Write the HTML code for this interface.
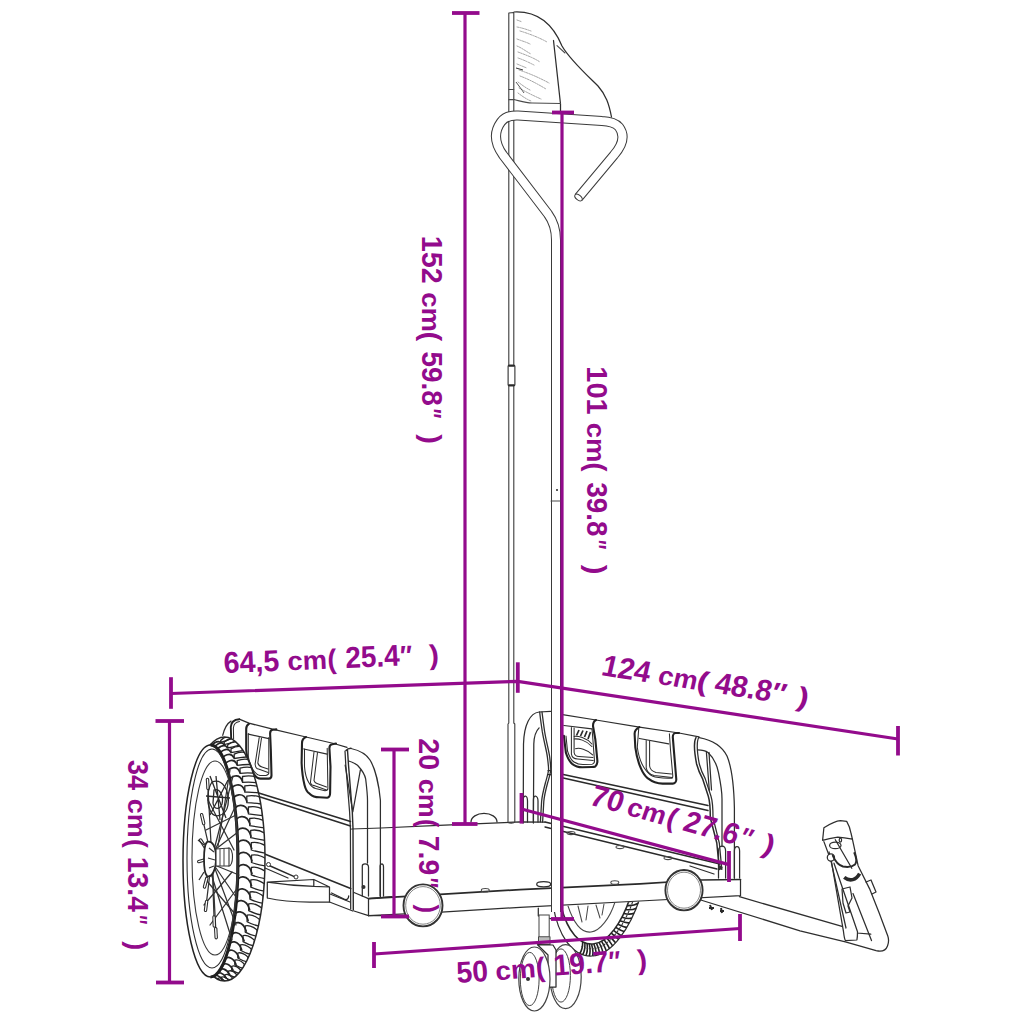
<!DOCTYPE html>
<html><head><meta charset="utf-8"><style>
html,body{margin:0;padding:0;background:#fff;width:1024px;height:1024px;overflow:hidden}
svg{display:block}
.d{stroke:#930b8c;stroke-width:3.2;fill:none}
.k{stroke:#930b8c;stroke-width:3.8;fill:none}
.t{font-family:"Liberation Sans",sans-serif;font-weight:bold;font-size:30px;fill:#930b8c}
.l{stroke:#2e2e2e;stroke-width:1.25;fill:none;stroke-linecap:round;stroke-linejoin:round}
.lt{stroke:#4a4a4a;stroke-width:1.05;fill:none;stroke-linecap:round;stroke-linejoin:round}
.lo{stroke:#222;stroke-width:2.1;fill:none;stroke-linecap:round;stroke-linejoin:round}
.li{stroke:#2e2e2e;stroke-width:1.05;fill:none;stroke-linecap:round;stroke-linejoin:round}
.lk{stroke:#2a2a2a;stroke-width:2;fill:none;stroke-linecap:round;stroke-linejoin:round}
</style></head><body>
<svg width="1024" height="1024" viewBox="0 0 1024 1024">
<g id="drawing">
<defs>
<clipPath id="belowFloor"><path d="M540,907 L740,896 L740,1000 L540,1000 Z"/></clipPath>
<clipPath id="tread" clip-rule="evenodd"><path clip-rule="evenodd" d="M224.5,737 A40.5,122 0 1 1 224.5,981 A40.5,122 0 1 1 224.5,737 Z M210.5,745 A27.5,116 0 1 0 210.5,977 A27.5,116 0 1 0 210.5,745 Z"/></clipPath>
</defs>
<!-- under wheel (behind floor) -->
<g clip-path="url(#belowFloor)">
<path class="l" d="M553,905 C558,935 572,957 592,956 C612,955 630,928 640,898" style="fill:#fff"/>
<path class="lk" d="M561,906 C568,933 580,945 593,944 C608,943 622,922 630,898" style="stroke-width:1.6"/>
<path class="lt" d="M568,906 C575,927 583,933 591,932 C600,931 610,918 615,902"/>
<path stroke="#222" stroke-width="1.6" fill="none" d="M582.7,941.9 Q582.7,949.2 579.7,953.5 M584.9,942.9 Q585.3,950.3 582.7,954.7 M587.1,943.5 Q588.0,951.1 585.9,955.6 M589.3,943.9 Q590.8,951.5 589.3,956.0 M591.5,944.1 Q593.6,951.5 592.7,956.0 M593.9,943.9 Q596.5,951.2 596.2,955.4 M596.5,943.4 Q599.5,950.4 599.6,954.4 M599.1,942.5 Q602.5,949.2 602.9,952.9 M601.6,941.3 Q605.4,947.6 606.2,950.9 M604.1,939.7 Q608.3,945.6 609.4,948.6 M606.6,937.8 Q611.1,943.3 612.6,945.8 M608.9,935.6 Q613.8,940.7 615.6,942.7 M611.3,933.1 Q616.5,937.7 618.6,939.3 M613.6,930.3 Q619.0,934.5 621.5,935.6 M615.8,927.4 Q621.5,931.0 624.2,931.5 M617.9,924.2 Q623.9,927.2 626.9,927.3 M620.0,920.8 Q626.2,923.3 629.4,922.8 M621.9,917.2 Q628.4,919.1 631.8,918.1 M623.8,913.5 Q630.4,914.8 634.1,913.2 M625.6,909.6 Q632.4,910.4 636.2,908.2 M627.2,905.6 Q634.2,905.9 638.2,903.1 M628.8,901.5 Q635.9,901.3 640.0,898.1"/>
<path stroke="#333" stroke-width="1.1" fill="none" d="M581.6,946.6 L583.0,947.2 M584.1,947.6 L585.6,948.1 M586.7,948.4 L588.2,948.6 M589.4,948.8 L590.9,948.8 M592.1,948.8 L593.7,948.7 M595.0,948.5 L596.6,948.1 M597.9,947.8 L599.5,947.2 M600.8,946.6 L602.4,945.8 M603.6,945.0 L605.2,944.0 M606.4,943.1 L607.9,941.9 M609.1,940.9 L610.6,939.5 M611.8,938.3 L613.3,936.7 M614.4,935.4 L615.8,933.7 M616.9,932.2 L618.3,930.4 M619.3,928.8 L620.6,926.8 M621.7,925.2 L622.9,923.1 M623.9,921.3 L625.1,919.1 M626.0,917.3 L627.2,915.0 M628.1,913.1 L629.1,910.7 M630.0,908.8 L631.0,906.3 M631.7,904.3 L632.7,901.8 M633.4,899.8 L634.0,898.1"/>
<path class="lt" d="M588,906 L586,920 M596,905 L600,918 M604,904 L602,915 M578,906 L582,922"/>
</g>
<!-- rear (right) panel -->
<path class="l" d="M523.2,823 L523.5,744 C524,725 530,713 539.1,712 L550.5,711.4"/>
<path class="l" d="M533.4,823 L533.8,744 C534,737 536,731 539.1,727.9"/>
<path class="li" style="stroke-width:1.3" d="M539.7,712 C540.5,720 541.5,726 542.3,731.7 C544,742 546.5,750 547.4,757.1 C548,762 548.6,766 548.6,769.8 C548,775 546.5,779 545.5,782.5 C543.5,790 542,796 541.6,801.5 L540.4,821.8"/>
<path class="li" style="stroke-width:1.3" d="M542,712 C543,720 543.8,726 544.6,731.5 C546.3,742 548.8,750 549.7,757 C550.3,762 550.8,766 550.8,770 C550.2,775 548.7,779 547.7,782.5 C545.7,790 544.2,796 543.8,801.5 L542.6,822"/>
<path class="l" d="M548,770.5 L551.5,770.5 M547.5,774.5 L551,774.5"/>
<path class="l" d="M561,714.3 L596,720 L639.4,727.2 L679,733 L699,736.9"/>
<path class="lo" d="M563.9,735.8 L565.9,752.8 C567.5,758 569.5,761.5 572.1,763.8 C575,766 578.5,767.2 582.3,767.2 L592,767 C594,767 595.3,766.5 595.3,766.5 C596.8,765 597.4,763 597.4,761 L595.3,739.2 L593,726 C593,723 594,721 596,720"/>
<path class="li" d="M566,736 L567.5,751 C569,756 571,760 574,762 C577,764 580,764.5 583,764.5 L592,764.2 C593.5,764 594.5,763 594.5,761 L592.6,735.8 L592,728.9"/>
<path class="l" d="M563.9,725.5 L591.9,728.9"/>
<path class="li" d="M571.4,727.6 L571.4,754.2 C572,757.5 574.5,759 577.6,759 L593.3,760.4 M574.1,728 L574.1,752.5 C574.5,755 576.5,756.5 579,756.5 L593,757.5"/>
<path class="li" d="M574.1,736.4 C578,736 586,737.5 591.9,744 M574.1,739 C578,738.5 586,740 591.9,746.5"/>
<path class="li" d="M575.5,748.7 C579,747.5 587,749 592.6,754.9"/>
<path stroke="#2a2a2a" stroke-width="1.7" fill="none" d="M576.5,735.5 L579,730 M580.5,736 L583,730.5 M584.5,737 L587,731 M588,739 L590.5,732"/>
<path class="lo" d="M639.4,727.2 C637,728.5 634.6,731 634.6,733.7 L635.3,747.3 C636.5,756 638,762 640.7,767.8 C642.5,772 644.5,775.5 647.6,778.1 C652,781.5 657,783.6 662.6,783.6 L672.8,783.6 C674.8,783.6 676.3,781.5 676.3,779.5 L674.2,754.2 L672.8,737.1 C672.8,735 674,733 675.6,733 L679,733"/>
<path class="li" d="M638.7,728.9 L637.3,747.3 C638.5,756 641,763 644.1,767.8 C646.5,771.5 649,774.5 652.3,776 C657,778 663,778.1 668,778.1 L672.2,778.1 C672.8,777.5 672.8,776.5 672.8,776 L670.5,750 L669.4,733.7"/>
<path class="l" d="M639.4,738.5 L668.7,743.9"/>
<path class="li" d="M646.2,740.5 L646.2,767.8 C647,772 650,774.5 654,775.5 L672.2,777.4 M649.6,741 L649.6,766 C650,769.5 652.5,771.5 656,772.5 L671.5,774"/>
<path class="lk" style="stroke-width:1.5" d="M561,774 L708,805.5"/>
<path class="lk" style="stroke-width:1.5" d="M561,777.5 L708,810.5"/>
<path class="lk" style="stroke-width:1.5" d="M696,737.5 C694,741 693.5,748 696.6,764 C698.5,771 700.5,775 702.5,778.6 L708.3,796.2 C709.5,800 710.3,808 710.3,817.7 L716.8,843 L719.4,869.4"/>
<path class="l" d="M698.8,737.3 C696.8,741 696.3,748 699.3,764 C701.2,771 703.2,775 705.2,778.6 L711,796.2 C712.2,800 713,808 713,817.7 L719.3,843 L721.8,869.4"/>
<path class="l" d="M699.2,737.6 C712,740 722,746 727,756 C732,768 734,790 734.4,808 L734.4,878"/>
<path class="l" d="M697.5,749.9 C702,750 706,751 708,752.5 C713,757 717,765 718.5,772.7 C721,785 722,795 722,799 L722,846.5"/>
<path class="l" d="M706.4,752.2 L709.3,790.3 M709,752.5 L711.5,790"/>
<path class="l" d="M718.5,878 L718.5,851 C718.5,847 721,846 722,846 C724,846 725.6,848 725.6,851 L725.6,878 M734.4,878 L734.4,851 C734.4,847.5 736,846.5 737,846.5 C738.5,846.5 739.6,848 739.6,851 L739.6,878"/>
<path class="lk" style="stroke-width:1.6" d="M545,822 L720,864"/>
<path class="lk" style="stroke-width:1.3" d="M545,827 L717,869"/>
<path class="l" d="M690,866 L714,874"/>
<path class="l" d="M523.2,822 L523.2,800 C523.2,797.5 524.5,796 525.5,796 C527,796.5 527.5,798 527.5,801 L527.5,822 M533.4,822 L533.4,800 C533.4,797.5 534.5,796 535.5,796 C537,796.5 538,798 538,801 L538,822"/>
<circle cx="720.3" cy="867.6" r="2.2" fill="#333"/>
<ellipse class="lt" cx="571" cy="833" rx="4" ry="1.6"/>
<ellipse class="lt" cx="620" cy="847" rx="4" ry="1.6"/>
<ellipse class="lt" cx="668" cy="858" rx="4" ry="1.6"/>
<!-- floor -->
<path class="l" d="M351.6,829 L381,828 L438.8,825.3 L520,821.9 L545,822"/>
<path class="l" d="M471,821.9 A13,8.5 0 0 1 497,821.9"/>
<path class="lk" style="stroke-width:1.7" d="M368.5,898.6 L440,894.3 L520,889.6 L640,883.9 L701,880 L740.5,879.5"/>
<path class="l" d="M354,911 L368.5,915.7 L441.5,912.1 L520,907.3 L640,901 L740.5,895.7 L740.5,879.5"/>
<path class="l" d="M368.5,898.6 L368.5,915.7 M354,892.5 L368.5,898.6"/>
<ellipse class="lt" cx="485.3" cy="890.2" rx="4" ry="1.8"/>
<ellipse class="l" cx="543.7" cy="884.3" rx="7" ry="2.6" style="fill:#fff"/>
<ellipse class="lt" cx="614.8" cy="882.5" rx="4" ry="1.8"/>
<!-- left (front) panel -->
<path class="l" d="M222.7,735.3 C224.5,728 227,723.5 231,721.1 M239.3,719.2 L248.9,723.2 L273.6,729.4 L306,737 L333.8,743.5 L347,747.3"/>
<path class="lo" style="stroke-width:1.9" d="M231.2,739 L230.8,727 C231,722 234,719.5 239.3,719.2"/>
<path class="li" d="M233.6,739 L233.4,728 C233.6,724.5 235.5,722 239.5,721.5"/>
<path class="lo" d="M248.9,723.9 C247,725 246.2,727 246.2,729 L246.2,749.2 C246.5,755 247.5,759 249.6,762.9 L253.7,773.8 C255.5,777 258,778.6 260.6,778.6 L268.8,778.6 C270.5,778.6 271.5,777 271.5,775.2 L270.8,749.2 L270.1,733.5 C270.1,731 271.5,729.7 272.9,729.7 L276.3,729.4"/>
<path class="li" d="M248.3,733.5 L248.3,756 C249,762 251,767 253,769.7 C255,773 257,775 260,775.5 L266,775.5 C268,775 268.8,774 268.8,773.1 L268.8,737.6"/>
<path class="l" d="M248.3,734.2 L268.8,738.6"/>
<path class="li" d="M259.2,737.6 L255.1,764.2 C255.5,767 257,769 258.5,769 L268.1,772.5 M261.5,738 L257.8,763 C258.5,765.5 260,766.5 262,767 L268,769"/>
<path class="lo" d="M306,737 C303.5,738 302,740.5 302,743.2 L301.6,763 C302,772 303,779 304.5,784.9 C305.5,789 307,792 309.6,793.7 C312,796 316,797.3 319.2,797.3 L327.2,797.7 C329,797.5 330.1,795.5 330.1,793 L330.5,766.6 L329.4,748.3 C329.4,746 330.5,744.5 332.3,744.3 L336,743.5"/>
<path class="li" d="M304.5,749 L304.5,766.6 C305,773 306.5,779 308.9,782.7 C310.5,785.5 312.5,787.5 315.5,788.6 L325,790.8 C326.5,790.8 327.9,790 327.9,788.6 L327.2,748.3"/>
<path class="l" d="M303.8,749 L327.2,754.2"/>
<path class="li" d="M314,752 L310.4,782.7 C311,784.5 312.5,785.6 314,785.6 L326.5,790 M317.5,752.5 L314,780.5 C314.5,782 315.5,783 317,783.5 L326.5,787"/>
<path class="lk" style="stroke-width:1.4" d="M346,750.5 C347,749 348.5,748.2 351,748.2 M347.5,750 L348.5,765 L352.3,812 L353,828.4 L353.3,910"/>
<path class="l" d="M345,751 L345.8,765 L349.6,812 L350.4,828.4 L350.7,909"/>
<path class="l" d="M351,748.5 C362,751 367,755 370,760 C375,768 379,785 380.4,800.3 L380.4,896.6"/>
<path class="l" d="M348.7,761 C352,762 355,763.5 357.5,765.2 C362,770 365,775 365.7,779.2 C367,790 367.5,795 367.5,800.3 L367.5,863"/>
<path class="l" d="M345.2,765.2 L352.8,812 L360.4,769.8"/>
<path class="lk" style="stroke-width:1.5" d="M258.7,793 L350.5,821.5"/>
<path class="lk" style="stroke-width:1.5" d="M258.7,796.5 L350.5,826"/>
<path class="lk" style="stroke-width:1.6" d="M265.3,854.2 L350.7,888.4"/>
<path class="l" d="M265,868 L288,878"/>
<path class="lk" style="stroke-width:1.5" d="M268,865 L296,877.4"/>
<circle cx="268.5" cy="864.5" r="2" fill="#fff" stroke="#333" stroke-width="1"/>
<circle cx="296" cy="877" r="2" fill="#fff" stroke="#333" stroke-width="1"/>
<path class="l" d="M267.3,882.2 L313.8,879.5 L329.5,887 M267.3,882.2 C285,885 300,886 313.8,886.3 L329.5,887 M267.3,898 C280,901 295,902 310,902 L329.5,902 M267.3,882.2 L267.3,898 M329.5,887 L329.5,902 M313.8,879.5 L313.8,886.3"/>
<path class="l" d="M329.5,902 L352.8,911 M330,894 L350,902"/>
<path class="lk" style="stroke-width:1.3" d="M331.6,893 L345,899.5 C347,900 348.5,899 348.7,896"/>
<path class="l" d="M362.3,896 L362.3,866 C362.3,864 364,863.8 365,863.8 C367,863.8 368.5,865 368.5,867 L368.5,896 M380.1,896 L380.1,866 C380.1,864.5 381.5,863.8 382,863.8 C383,864 383.5,865 383.5,867 L383.5,896"/>
<circle cx="363.5" cy="887" r="2" fill="#333"/>
<path class="l" d="M368.5,898.6 L391.7,896.6 M368.5,915.7 L391.7,915.7"/>
<!-- small casters -->
<ellipse cx="423" cy="905.4" rx="19.5" ry="21" fill="#fff" stroke="#333" stroke-width="1.9"/>
<ellipse cx="423" cy="905.4" rx="17.3" ry="18.8" fill="none" stroke="#777" stroke-width="0.9"/>
<ellipse cx="684" cy="890.2" rx="18.6" ry="20.2" fill="#fff" stroke="#333" stroke-width="1.9"/>
<ellipse cx="684" cy="890.2" rx="16.5" ry="18" fill="none" stroke="#777" stroke-width="0.9"/>
<!-- front caster pair -->
<path class="l" d="M538.3,908 L538.3,915.8 L551.6,918.9"/>
<rect x="539" y="915" width="10.2" height="22" fill="#fff" stroke="#444" stroke-width="1"/>
<rect x="538.5" y="937" width="11.5" height="7.5" fill="#fff" stroke="#444" stroke-width="1"/>
<path stroke="#555" stroke-width="0.8" d="M538.5,939 L550,939 M538.5,941 L550,941 M538.5,943 L550,943"/>
<ellipse cx="565.6" cy="976.7" rx="15.6" ry="32" fill="#fff" stroke="#444" stroke-width="1.2"/>
<ellipse cx="561" cy="975.5" rx="9.4" ry="26.6" fill="none" stroke="#444" stroke-width="1"/>
<path class="l" d="M537.5,944.7 L553,945 L556,950 L556,987 L548,987 L548,955 Z" style="fill:#fff"/>
<ellipse cx="534.4" cy="979" rx="15.6" ry="32" fill="#fff" stroke="#444" stroke-width="1.2"/>
<ellipse cx="529.7" cy="979" rx="9.4" ry="26.6" fill="none" stroke="#444" stroke-width="1"/>
<circle cx="528" cy="979" r="2" fill="#333"/>
<!-- hitch arm -->
<path class="l" d="M701,897.8 L700.7,900 L800,930.8 L845.4,941.9 L876.1,950.6 C882,952 886,950 887.5,946 C889,942 888.5,938 887.8,936 L879,912.5 L869.5,888.6 L858.1,865.7 L852.4,839.1"/>
<path class="l" d="M739.4,896.7 L842.9,926.6 L856.9,933 L870.8,934.2"/>
<path class="l" d="M853,893.6 L871.5,940.6"/>
<path class="l" d="M823.9,841.6 L831.5,862 L843.5,931.7 C844,936 844.5,939 845.4,940.6 L856.9,940 C857.5,937 857.5,934 857.5,931.7 L834,863.2" style="fill:#fff"/>
<path class="l" d="M829,852 L846,928"/>
<path class="l" d="M822.6,840.4 L823.9,827.7 C830,824 836,821 840.4,820.7 L846.7,821.3 C849,825 850.5,830 851.2,834 L852.4,839.1 C846,838 842,837.5 837.8,837.2 C832,838 827,839 822.6,840.4 Z" style="fill:#fff"/>
<ellipse class="l" cx="835.3" cy="845.4" rx="5.7" ry="3.2"/>
<ellipse class="l" cx="840.4" cy="840" rx="1.2" ry="2"/>
<circle class="l" cx="830.9" cy="857.5" r="3.6" style="fill:#fff"/>
<path class="lk" style="stroke-width:1.9" d="M832.8,855.6 C835,861 838,865 843,866.5 C848,867.5 852,867 855,864.5 C857,862 856,857 854.3,853"/>
<path d="M844.2,877.4 C850,882 856,880 859.6,873.6" stroke="#2a2a2a" stroke-width="3.6" fill="none"/>
<path class="l" d="M835.3,839.7 L851.8,868.3"/>
<path class="l" d="M866,882 L871,880 L876,892 L872,894"/>
<path class="l" d="M842,889 L850,887 L852,898 L848,906 L850,912 L846,913 L843,903 Z"/>
<path stroke="#2a2a2a" stroke-width="2" d="M710,905 L712,910 M709,908 L714,908 M721,908 L722,913 M720,911 L724,911"/>

<ellipse cx="224.5" cy="859" rx="40.5" ry="122" fill="#fff" stroke="#2a2a2a" stroke-width="1.5"/>
<g clip-path="url(#tread)" stroke="#262626" stroke-width="1.5" fill="none" stroke-linecap="round" stroke-linejoin="round">
<path d="M210.9,746.7 C211.9,744.7 217.1,739.9 220.1,742.2" stroke-width="1.7"/>
<path d="M220.7,740.5 C225.4,735.4 230.1,736.9 230.1,736.9 L230.1,738.9 C225.4,741.5 220.7,742.5 220.7,742.5 Z" stroke-width="1.3"/>
<path d="M213.7,748.4 C214.7,745.4 220.7,740.9 223.7,744.2" stroke-width="1.7"/>
<path d="M224.2,742.1 C229.3,737.4 234.3,738.9 234.3,738.9 L234.3,741.5 C229.3,743.6 224.2,744.6 224.2,744.6 Z" stroke-width="1.3"/>
<path d="M216.5,751.3 C217.5,747.5 224.2,743.2 227.2,747.4" stroke-width="1.7"/>
<path d="M227.7,744.8 C233.0,740.7 238.4,742.2 238.4,742.2 L238.4,745.4 C233.0,747.0 227.7,748.0 227.7,748.0 Z" stroke-width="1.3"/>
<path d="M219.2,755.4 C220.2,750.7 227.6,746.7 230.6,751.9" stroke-width="1.7"/>
<path d="M231.0,748.9 C236.7,745.3 242.3,746.8 242.3,746.8 L242.3,750.6 C236.7,751.7 231.0,752.7 231.0,752.7 Z" stroke-width="1.3"/>
<path d="M221.7,760.7 C222.7,755.2 230.8,751.5 233.8,757.6" stroke-width="1.7"/>
<path d="M234.2,754.2 C240.1,751.2 246.1,752.7 246.1,752.7 L246.1,757.0 C240.1,757.5 234.2,758.5 234.2,758.5 Z" stroke-width="1.3"/>
<path d="M224.2,767.1 C225.2,760.8 233.9,757.4 236.9,764.4" stroke-width="1.7"/>
<path d="M237.2,760.6 C243.4,758.1 249.6,759.6 249.6,759.6 L249.6,764.5 C243.4,764.4 237.2,765.4 237.2,765.4 Z" stroke-width="1.3"/>
<path d="M226.5,774.5 C227.5,767.6 236.8,764.5 239.8,772.3" stroke-width="1.7"/>
<path d="M240.0,768.1 C246.4,766.2 252.8,767.7 252.8,767.7 L252.8,773.1 C246.4,772.4 240.0,773.4 240.0,773.4 Z" stroke-width="1.3"/>
<path d="M228.6,782.9 C229.6,775.3 239.4,772.6 242.4,781.1" stroke-width="1.7"/>
<path d="M242.5,776.5 C249.2,775.0 255.8,776.7 255.8,776.7 L255.8,782.6 C249.2,781.6 242.5,782.4 242.5,782.4 Z" stroke-width="1.3"/>
<path d="M230.5,792.2 C231.5,784.0 241.7,781.6 244.7,790.8" stroke-width="1.7"/>
<path d="M244.8,785.9 C251.6,784.4 258.4,786.7 258.4,786.7 L258.4,792.9 C251.6,791.9 244.8,792.2 244.8,792.2 Z" stroke-width="1.3"/>
<path d="M232.2,802.2 C233.2,793.5 243.8,791.5 246.8,801.3" stroke-width="1.7"/>
<path d="M246.8,796.1 C253.7,794.6 260.6,797.4 260.6,797.4 L260.6,804.0 C253.7,803.0 246.8,802.7 246.8,802.7 Z" stroke-width="1.3"/>
<path d="M233.6,812.9 C234.6,803.7 245.5,802.1 248.5,812.4" stroke-width="1.7"/>
<path d="M248.4,807.0 C255.4,805.5 262.4,808.8 262.4,808.8 L262.4,815.7 C255.4,814.7 248.4,813.9 248.4,813.9 Z" stroke-width="1.3"/>
<path d="M234.8,824.2 C235.8,814.6 247.0,813.4 250.0,824.1" stroke-width="1.7"/>
<path d="M249.7,818.5 C256.8,817.0 263.9,820.7 263.9,820.7 L263.9,827.8 C256.8,826.8 249.7,825.6 249.7,825.6 Z" stroke-width="1.3"/>
<path d="M235.7,835.8 C236.7,825.9 248.0,825.1 251.0,836.2" stroke-width="1.7"/>
<path d="M250.7,830.4 C257.8,828.9 264.9,833.1 264.9,833.1 L264.9,840.3 C257.8,839.3 250.7,837.7 250.7,837.7 Z" stroke-width="1.3"/>
<path d="M236.3,847.7 C237.3,837.7 248.7,837.2 251.7,848.5" stroke-width="1.7"/>
<path d="M251.3,842.6 C258.3,841.1 265.4,845.7 265.4,845.7 L265.4,853.1 C258.3,852.1 251.3,850.0 251.3,850.0 Z" stroke-width="1.3"/>
<path d="M236.6,859.8 C237.6,849.6 249.0,849.6 252.0,861.0" stroke-width="1.7"/>
<path d="M251.5,855.1 C258.5,853.6 265.5,858.5 265.5,858.5 L265.5,865.9 C258.5,864.9 251.5,862.5 251.5,862.5 Z" stroke-width="1.3"/>
<path d="M236.6,871.9 C237.6,861.7 249.0,862.1 252.0,873.5" stroke-width="1.7"/>
<path d="M251.3,867.5 C258.3,866.0 265.2,871.2 265.2,871.2 L265.2,878.6 C258.3,877.6 251.3,874.9 251.3,874.9 Z" stroke-width="1.3"/>
<path d="M236.4,883.9 C237.4,873.8 248.5,874.5 251.5,885.8" stroke-width="1.7"/>
<path d="M250.8,879.9 C257.6,878.4 264.4,883.8 264.4,883.8 L264.4,891.1 C257.6,890.1 250.8,887.2 250.8,887.2 Z" stroke-width="1.3"/>
<path d="M235.8,895.7 C236.8,885.8 247.7,886.8 250.7,897.9" stroke-width="1.7"/>
<path d="M249.9,892.0 C256.6,890.5 263.2,896.2 263.2,896.2 L263.2,903.3 C256.6,902.3 249.9,899.1 249.9,899.1 Z" stroke-width="1.3"/>
<path d="M235.0,907.1 C236.0,897.4 246.6,898.7 249.6,909.5" stroke-width="1.7"/>
<path d="M248.7,903.8 C255.1,902.3 261.6,908.1 261.6,908.1 L261.6,915.0 C255.1,914.0 248.7,910.7 248.7,910.7 Z" stroke-width="1.3"/>
<path d="M233.8,918.0 C234.8,908.7 245.1,910.2 248.1,920.6" stroke-width="1.7"/>
<path d="M247.1,915.1 C253.3,913.6 259.5,919.5 259.5,919.5 L259.5,926.1 C253.3,925.1 247.1,921.7 247.1,921.7 Z" stroke-width="1.3"/>
<path d="M232.5,928.3 C233.5,919.4 243.2,921.2 246.2,931.1" stroke-width="1.7"/>
<path d="M245.2,925.8 C251.2,924.3 257.1,930.2 257.1,930.2 L257.1,936.4 C251.2,935.4 245.2,932.1 245.2,932.1 Z" stroke-width="1.3"/>
<path d="M230.8,937.9 C231.8,929.5 241.1,931.5 244.1,940.8" stroke-width="1.7"/>
<path d="M243.0,935.7 C248.7,934.2 254.3,940.1 254.3,940.1 L254.3,946.0 C248.7,945.0 243.0,941.6 243.0,941.6 Z" stroke-width="1.3"/>
<path d="M229.0,946.6 C230.0,938.9 238.6,940.9 241.6,949.6" stroke-width="1.7"/>
<path d="M240.5,944.9 C245.9,943.4 251.3,949.1 251.3,949.1 L251.3,954.6 C245.9,953.6 240.5,950.3 240.5,950.3 Z" stroke-width="1.3"/>
<path d="M226.9,954.4 C227.9,947.3 235.9,949.5 238.9,957.5" stroke-width="1.7"/>
<path d="M237.8,953.0 C242.8,951.5 247.9,957.1 247.9,957.1 L247.9,962.1 C242.8,961.1 237.8,958.0 237.8,958.0 Z" stroke-width="1.3"/>
<path d="M224.7,961.2 C225.7,954.8 233.0,957.1 236.0,964.3" stroke-width="1.7"/>
<path d="M234.8,960.2 C239.5,958.7 244.2,964.1 244.2,964.1 L244.2,968.5 C239.5,967.5 234.8,964.7 234.8,964.7 Z" stroke-width="1.3"/>
<path d="M222.2,967.0 C223.2,961.3 229.9,963.6 232.9,969.9" stroke-width="1.7"/>
<path d="M231.7,966.3 C236.0,964.8 240.4,969.8 240.4,969.8 L240.4,973.7 C236.0,972.7 231.7,970.1 231.7,970.1 Z" stroke-width="1.3"/>
<path d="M219.7,971.5 C220.7,966.7 226.6,969.0 229.6,974.4" stroke-width="1.7"/>
<path d="M228.3,971.1 C232.4,969.6 236.4,974.4 236.4,974.4 L236.4,977.7 C232.4,976.7 228.3,974.4 228.3,974.4 Z" stroke-width="1.3"/>
<path d="M217.0,974.9 C218.0,970.9 223.1,973.1 226.1,977.6" stroke-width="1.7"/>
<path d="M224.9,974.8 C228.6,973.3 232.2,977.7 232.2,977.7 L232.2,980.4 C228.6,979.4 224.9,977.5 224.9,977.5 Z" stroke-width="1.3"/>
<path d="M214.3,977.0 C215.3,973.9 219.6,976.1 222.6,979.5" stroke-width="1.7"/>
<path d="M221.4,977.2 C224.7,975.7 228.0,979.7 228.0,979.7 L228.0,981.7 C224.7,980.7 221.4,979.3 221.4,979.3 Z" stroke-width="1.3"/>
<path d="M211.5,977.9 C212.5,975.7 216.0,977.7 219.0,980.2" stroke-width="1.7"/>
<path d="M217.9,978.3 C220.8,976.8 223.7,980.3 223.7,980.3 L223.7,981.8 C220.8,980.8 217.9,979.7 217.9,979.7 Z" stroke-width="1.3"/>
</g>
<ellipse cx="210.5" cy="861" rx="27.5" ry="116" fill="#fff" stroke="#222" stroke-width="1.5"/>
<path d="M210.5,745 A27.5,116 0 0 1 210.5,977" fill="none" stroke="#1e1e1e" stroke-width="3"/>
<ellipse cx="212" cy="858.5" rx="25" ry="109.5" fill="none" stroke="#2e2e2e" stroke-width="1.1"/>
<ellipse cx="215" cy="858" rx="23" ry="97" fill="none" stroke="#3a3a3a" stroke-width="1.1"/>
<g stroke="#333" stroke-width="1.25" fill="none" stroke-linecap="round">
<path d="M207.5,779.5 L211.3,848.6"/>
<path d="M201.6,814.7 L210.4,852.8"/>
<path d="M200.6,840 L210.3,855.8"/>
<path d="M198.7,861.6 L210.0,858.4"/>
<path d="M204.5,887 L210.9,861.5"/>
<path d="M205.5,910.4 L211.0,864.3"/>
<path d="M214.3,926 L212.3,866.2"/>
<path d="M216.2,937.7 L212.6,867.6"/>
<path d="M214,850 L233,776"/>
<path d="M216,848 L236,805"/>
<path d="M218,846 L230,770"/>
<path d="M212,852 L238,832"/>
<path d="M214,866 L236,925"/>
<path d="M216,868 L238,900"/>
<path d="M210,870 L232,940"/>
<path d="M212,864 L239,875"/>
<path d="M206,880 L236,915"/>
<path d="M204,905 L232,872"/>
<path d="M210,925 L236,890"/>
<path d="M208,800 L234,850"/>
<path d="M206,830 L236,815"/>
</g>
<path d="M207.5,779.5 L208.0,788.5" stroke="#2a2a2a" stroke-width="3.4" stroke-linecap="round"/>
<path d="M207.5,779.5 L208.0,788.5" stroke="#fff" stroke-width="1.3" stroke-linecap="round"/>
<path d="M201.6,814.7 L203.7,823.5" stroke="#2a2a2a" stroke-width="3.4" stroke-linecap="round"/>
<path d="M201.6,814.7 L203.7,823.5" stroke="#fff" stroke-width="1.3" stroke-linecap="round"/>
<path d="M200.6,840.0 L205.4,847.6" stroke="#2a2a2a" stroke-width="3.4" stroke-linecap="round"/>
<path d="M200.6,840.0 L205.4,847.6" stroke="#fff" stroke-width="1.3" stroke-linecap="round"/>
<path d="M198.7,861.6 L207.4,859.2" stroke="#2a2a2a" stroke-width="3.4" stroke-linecap="round"/>
<path d="M198.7,861.6 L207.4,859.2" stroke="#fff" stroke-width="1.3" stroke-linecap="round"/>
<path d="M204.5,887.0 L206.8,878.3" stroke="#2a2a2a" stroke-width="3.4" stroke-linecap="round"/>
<path d="M204.5,887.0 L206.8,878.3" stroke="#fff" stroke-width="1.3" stroke-linecap="round"/>
<path d="M205.5,910.4 L206.6,901.5" stroke="#2a2a2a" stroke-width="3.4" stroke-linecap="round"/>
<path d="M205.5,910.4 L206.6,901.5" stroke="#fff" stroke-width="1.3" stroke-linecap="round"/>
<path d="M214.3,926.0 L214.0,917.0" stroke="#2a2a2a" stroke-width="3.4" stroke-linecap="round"/>
<path d="M214.3,926.0 L214.0,917.0" stroke="#fff" stroke-width="1.3" stroke-linecap="round"/>
<path d="M216.2,937.7 L215.7,928.7" stroke="#2a2a2a" stroke-width="3.4" stroke-linecap="round"/>
<path d="M216.2,937.7 L215.7,928.7" stroke="#fff" stroke-width="1.3" stroke-linecap="round"/>
<g stroke="#2a2a2a" stroke-width="1.3" fill="none">
<path d="M212,782 C222,778 230,790 228,805 C226,816 214,820 210,810 C206,800 208,788 212,782 Z"/>
<path d="M214,790 C220,788 224,796 222,804 C220,810 214,810 213,803 Z"/>
<path d="M210,776 L226,818 M228,780 L210,815 M206,796 L230,798 M216,776 L220,820"/>
</g>
<path d="M207,842 C212,840 216,846 216,858 C216,870 212,878 207,876 C203,872 203,846 207,842 Z" fill="#fff" stroke="#262626" stroke-width="1.8"/>
<path d="M209,848 L214,852 M208,858 L215,860 M209,868 L214,866" stroke="#333" stroke-width="1.2"/>
<ellipse cx="229" cy="857" rx="3.5" ry="9" fill="#fff" stroke="#333" stroke-width="1.1"/>
<path d="M216,849 L229,848 L229,866 L216,866 Z" fill="#fff" stroke="#333" stroke-width="1.1"/>
<path d="M220,848.5 L220,866 M224,848 L224,866" stroke="#444" stroke-width="1" fill="none"/>
<path d="M204,845 L198,840 M204,872 L199,880" stroke="#333" stroke-width="1.3"/>
<!-- pole -->
<path class="l" style="stroke:#3a3a3a;stroke-width:1.1" d="M508.8,13 L508.8,723 L508,724 L508,822 C508.5,823.5 514,823.5 514.8,822 L514.8,724 L513.8,723 L513.8,12.5 L508.8,13"/>
<rect x="508.1" y="365" width="6.8" height="21" rx="1.2" fill="#fff" stroke="#333" stroke-width="1.1"/>
<path d="M508.3,365.8 L514.7,365.8 M508.3,385.2 L514.7,385.2" stroke="#2a2a2a" stroke-width="1.8"/>
<!-- flag -->
<path class="l" d="M514,12 C535,11 552,22 562,46 C570,60 590,78 598,86 C606,95 609,104 611.5,117"/>
<path class="l" d="M553.5,40.5 L560.5,104 L560.5,111"/>
<path class="lt" d="M514,99.6 C520,101 526,103 532,103 L560.5,103.4"/>
<path class="lt" d="M557,45.6 L565,53"/>
<path class="lt" d="M508.8,89.4 L513.8,89.4 M508.8,99.6 L513.8,99.6"/>
<g stroke="#9a9a9a" stroke-width="0.9" fill="none" stroke-dasharray="1.6 1.1" stroke-linecap="round">
<path d="M517,20 L521,21.5 M517,27 C523,28 528,30 531,31 M520,31 C530,34 540,38 547,42 M517,39 C522,41 526,42 530,44 M517,46 C522,48 527,52 531,54 M518,52 C526,55 534,58 540,62 M518,58 C524,60 530,63 534,65 M517,64 C522,66 524,67 527,68 M519,70 C528,73 538,77 549,83 M520,76 C528,79 536,83 546,89 M518,82 C522,85 526,88 530,90 M519,88 C526,92 534,96 541,99 M518,93 C522,96 526,99 531,101"/>
</g>
<path d="M516,68 L523,70" stroke="#333" stroke-width="1" fill="none"/>
<path d="M516,82 C519,86 522,90 524,93" stroke="#555" stroke-width="1" fill="none"/>
<!-- handlebar tube -->
<path d="M578.5,197.5 L614,155 Q628,139 619,127 Q614,121.5 602,121 L518,115.5 Q506,115 501,122 Q490,137 503,155 L548,214 Q556,225 556,240 L556,912" stroke="#3a3a3a" stroke-width="10" fill="none"/>
<path d="M578.5,197.5 L614,155 Q628,139 619,127 Q614,121.5 602,121 L518,115.5 Q506,115 501,122 Q490,137 503,155 L548,214 Q556,225 556,240 L556,912" stroke="#fff" stroke-width="8" fill="none"/>
<ellipse cx="578.5" cy="197.5" rx="2.5" ry="4.3" transform="rotate(-50 578.5 197.5)" stroke="#3a3a3a" stroke-width="1" fill="#fff"/>
<path class="lt" d="M551,501 L561,501"/>
<circle cx="557" cy="490" r="1" fill="#222"/>
</g>
<g id="dims">
<line class="d" x1="465" y1="13" x2="465" y2="824"/>
<line class="k" x1="452" y1="13" x2="479.5" y2="13"/>
<line class="k" x1="452" y1="824" x2="477.5" y2="824"/>
<line class="d" x1="562" y1="112.5" x2="562" y2="919"/>
<line class="k" x1="552" y1="112.5" x2="574" y2="112.5"/>
<line class="k" x1="551" y1="919" x2="574" y2="919"/>
<line class="d" x1="169.5" y1="721" x2="169.5" y2="982.5"/>
<line class="k" x1="155.5" y1="721" x2="184" y2="721"/>
<line class="k" x1="156" y1="982.5" x2="184" y2="982.5"/>
<line class="d" x1="394" y1="749.5" x2="394" y2="916.5"/>
<line class="k" x1="381" y1="749.5" x2="409" y2="749.5"/>
<line class="k" x1="381" y1="916.5" x2="409" y2="916.5"/>
<polyline class="d" points="171,693.5 517.8,681.3 898,739"/>
<line class="k" x1="171" y1="677.2" x2="171" y2="708.8"/>
<line class="k" x1="517.8" y1="662.3" x2="517.8" y2="692.8"/>
<line class="k" x1="898" y1="726" x2="898" y2="755.5"/>
<line class="d" x1="521.5" y1="809" x2="729" y2="864.6"/>
<line class="k" x1="521.5" y1="793" x2="521.5" y2="823.6"/>
<line class="k" x1="729" y1="851" x2="729" y2="882"/>
<line class="d" x1="374" y1="954" x2="740" y2="928.5"/>
<line class="k" x1="374" y1="942" x2="374" y2="968"/>
<line class="k" x1="740" y1="914" x2="740" y2="941"/>
<g transform="translate(422,237.6) rotate(90)">
<text class="t" transform="translate(-1.82,0) scale(0.960,1.0)">152</text>
<text class="t" transform="translate(54.60,0) scale(0.916,0.88)">cm</text>
<text class="t" transform="translate(93.92,0) scale(0.988,0.92)">(</text>
<text class="t" transform="translate(113.86,0) scale(0.931,1.0)">59.8</text>
<text class="t" transform="translate(171.24,0) scale(0.664,0.95)">″</text>
<text class="t" transform="translate(196.60,0) scale(0.976,0.92)">)</text>
</g>
<g transform="translate(587,368.2) rotate(90)">
<text class="t" transform="translate(-1.84,0) scale(0.966,1.0)">101</text>
<text class="t" transform="translate(54.60,0) scale(0.916,0.88)">cm</text>
<text class="t" transform="translate(94.42,0) scale(0.917,0.92)">(</text>
<text class="t" transform="translate(114.05,0) scale(0.928,1.0)">39.8</text>
<text class="t" transform="translate(171.86,0) scale(0.648,0.95)">″</text>
<text class="t" transform="translate(196.60,0) scale(0.964,0.92)">)</text>
</g>
<g transform="translate(418.7,739.3) rotate(90)">
<text class="t" transform="translate(-0.95,0) scale(0.952,1.0)">20</text>
<text class="t" transform="translate(39.42,0) scale(0.898,0.88)">cm</text>
<text class="t" transform="translate(79.75,0) scale(0.833,0.92)">(</text>
<text class="t" transform="translate(96.47,0) scale(0.947,1.0)">7.9</text>
<text class="t" transform="translate(138.38,0) scale(0.704,0.95)">″</text>
<text class="t" transform="translate(165.11,0) scale(0.869,0.92)">)</text>
</g>
<g transform="translate(128,760.7) rotate(90)">
<text class="t" transform="translate(-0.63,0) scale(0.902,1.0)">34</text>
<text class="t" transform="translate(38.02,0) scale(0.898,0.88)">cm</text>
<text class="t" transform="translate(78.28,0) scale(0.881,0.92)">(</text>
<text class="t" transform="translate(96.10,0) scale(0.945,1.0)">13.4</text>
<text class="t" transform="translate(154.67,0) scale(0.640,0.95)">″</text>
<text class="t" transform="translate(180.51,0) scale(0.893,0.92)">)</text>
</g>
<g transform="translate(225,673) rotate(-2.4)">
<text class="t" transform="translate(-1.05,0) scale(0.956,1.0)">64,5</text>
<text class="t" transform="translate(62.70,0) scale(0.916,0.88)">cm</text>
<text class="t" transform="translate(102.74,0) scale(0.905,0.92)">(</text>
<text class="t" transform="translate(120.77,0) scale(0.932,1.0)">25.4</text>
<text class="t" transform="translate(175.71,0) scale(0.840,0.95)">″</text>
<text class="t" transform="translate(204.80,0) scale(0.976,0.92)">)</text>
</g>
<g transform="translate(602,675.2) rotate(8.9) skewX(-4)">
<text class="t" transform="translate(-1.86,0) scale(0.977,1.0)">124</text>
<text class="t" transform="translate(55.31,0) scale(0.911,0.88)">cm</text>
<text class="t" transform="translate(94.49,0) scale(1.143,0.92)">(</text>
<text class="t" transform="translate(112.51,0) scale(0.979,1.0)">48.8</text>
<text class="t" transform="translate(170.02,0) scale(0.984,0.95)">″</text>
<text class="t" transform="translate(195.99,0) scale(1.119,0.92)">)</text>
</g>
<g transform="translate(589.5,804.5) rotate(15.5) skewX(-4)">
<text class="t" transform="translate(-1.28,0) scale(0.987,1.0)">70</text>
<text class="t" transform="translate(37.02,0) scale(0.901,0.88)">cm</text>
<text class="t" transform="translate(78.07,0) scale(0.952,0.92)">(</text>
<text class="t" transform="translate(95.55,0) scale(0.954,1.0)">27.6</text>
<text class="t" transform="translate(153.96,0) scale(0.800,0.95)">″</text>
<text class="t" transform="translate(177.89,0) scale(1.071,0.92)">)</text>
</g>
<g transform="translate(458,983) rotate(-4.3)">
<text class="t" transform="translate(-0.85,0) scale(0.946,1.0)">50</text>
<text class="t" transform="translate(38.18,0) scale(0.935,0.88)">cm</text>
<text class="t" transform="translate(78.64,0) scale(0.905,0.92)">(</text>
<text class="t" transform="translate(96.61,0) scale(0.944,1.0)">19.7</text>
<text class="t" transform="translate(151.93,0) scale(0.824,0.95)">″</text>
<text class="t" transform="translate(180.40,0) scale(0.964,0.92)">)</text>
</g>
</g>
</svg>
</body></html>
